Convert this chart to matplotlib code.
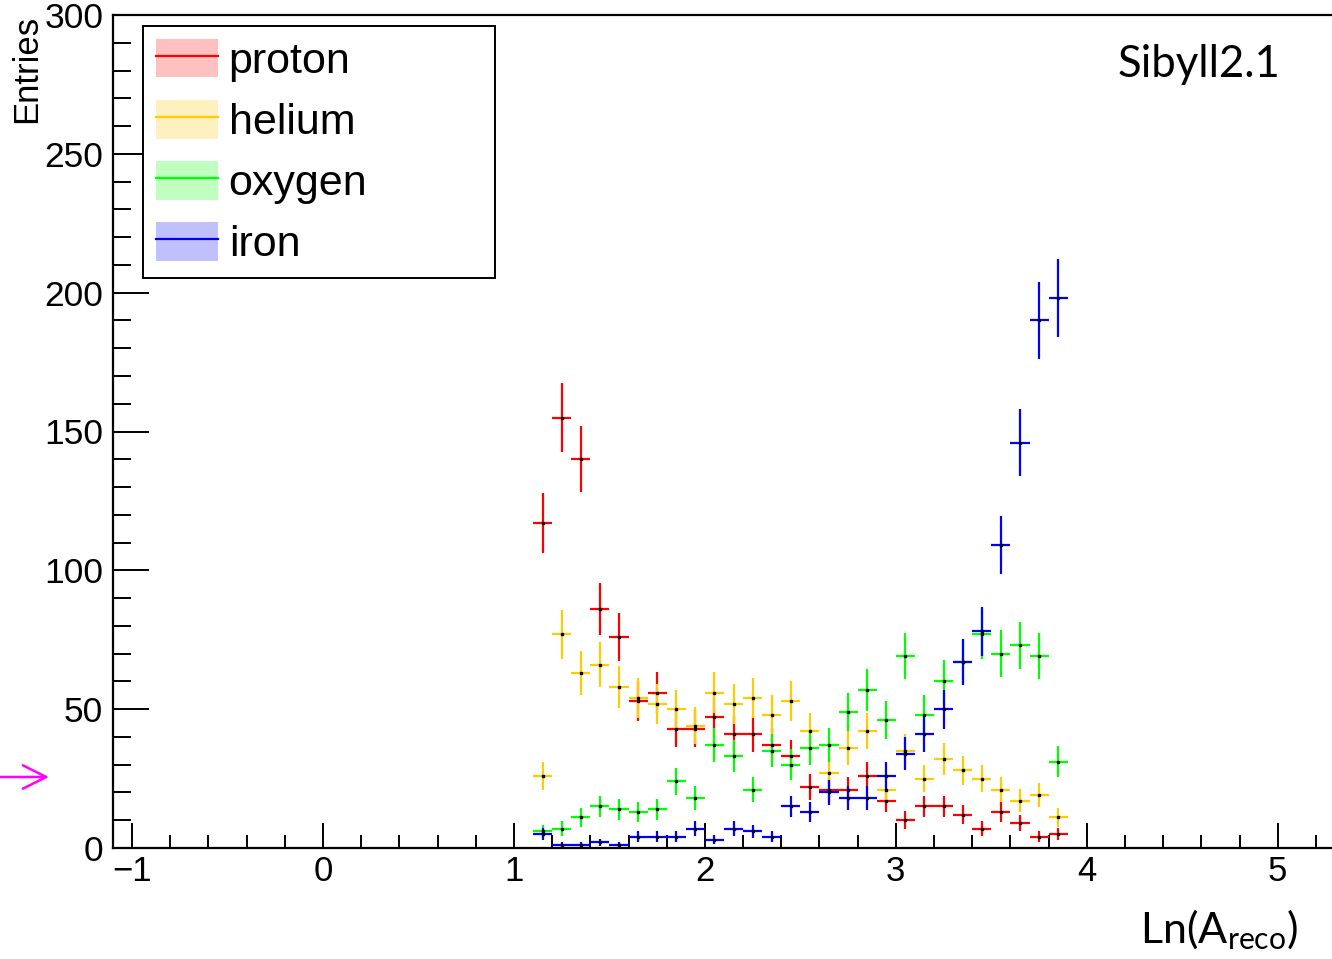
import numpy as np
import matplotlib
matplotlib.use('Agg')
import matplotlib.pyplot as plt
from matplotlib.patches import Patch
from matplotlib.lines import Line2D
from matplotlib.ticker import MultipleLocator

# bin centres of Ln(A_reco), bin width 0.1
bin_centres = [1.15, 1.25, 1.35, 1.45, 1.55, 1.65, 1.75, 1.85, 1.95, 2.05,
               2.15, 2.25, 2.35, 2.45, 2.55, 2.65, 2.75, 2.85, 2.95, 3.05,
               3.15, 3.25, 3.35, 3.45, 3.55, 3.65, 3.75, 3.85]
bin_width = 0.1

proton = [117, 155, 140, 86, 76, 53, 56, 43, 43, 47, 41, 41, 37, 33,
          22, 21, 21, 26, 17, 10, 15, 15, 12, 7, 13, 9, 4, 5]
helium = [26, 77, 63, 66, 58, 54, 52, 50, 44, 56, 52, 54, 48, 53,
          42, 27, 36, 42, 21, 35, 25, 32, 28, 25, 21, 17, 19, 11]
oxygen = [6, 7, 11, 15, 14, 13, 14, 24, 18, 37, 33, 21, 35, 30,
          36, 37, 49, 57, 46, 69, 48, 60, 67, 77, 70, 73, 69, 31]
iron = [5, 1, 1, 2, 1, 4, 4, 4, 7, 3, 7, 6, 4, 15,
        13, 20, 18, 18, 26, 34, 41, 50, 67, 78, 109, 146, 190, 198]

labels = ['proton', 'helium', 'oxygen', 'iron']
colors = ['#ff0000', '#ffcc00', '#00ff00', '#0000ff']
fills = ['#ffc0c0', '#fff0c0', '#c0ffc0', '#c0c0ff']

plt.rcParams['font.family'] = ['Liberation Sans', 'DejaVu Sans']
plt.rcParams['mathtext.fontset'] = 'custom'
plt.rcParams['mathtext.rm'] = 'Lato'

W, H = 1332, 959
fig = plt.figure(figsize=(W / 100, H / 100), dpi=100)
# frame: left 113 px, y=0 at 848 px, y=300 at 15 px, right edge just off the picture
ax = fig.add_axes([113 / W, (H - 848) / H, 1222 / W, 833 / H])

x = np.array(bin_centres)
for vals, col in zip([proton, helium, oxygen, iron], colors):
    v = np.array(vals, dtype=float)
    ax.errorbar(x, v, xerr=bin_width / 2, yerr=np.sqrt(v), fmt='none',
                ecolor=col, elinewidth=1.6, capsize=0)
    ax.plot(x, v, 's', ms=1.6, color='k', zorder=5)

ax.set_xlim(-1.1, 5.3)
ax.set_ylim(0, 300)
ax.xaxis.set_major_locator(MultipleLocator(1))
ax.xaxis.set_minor_locator(MultipleLocator(0.2))
ax.yaxis.set_major_locator(MultipleLocator(50))
ax.yaxis.set_minor_locator(MultipleLocator(10))
ax.tick_params(axis='x', which='major', direction='in', length=18, width=1.4,
               labelsize=25, pad=5)
ax.tick_params(axis='x', which='minor', direction='in', length=9.5, width=1.4)
ax.tick_params(axis='y', which='major', direction='in', length=26, width=1.4,
               labelsize=25.5, pad=7)
ax.tick_params(axis='y', which='minor', direction='in', length=13, width=1.4)
for s in ax.spines.values():
    s.set_linewidth(1.6)

handles = [(Patch(facecolor=f, edgecolor='none'), Line2D([], [], color=c, lw=1.6))
           for f, c in zip(fills, colors)]
leg = ax.legend(handles, labels, loc='upper left',
                bbox_to_anchor=(30 / 1222, 1 - 260 / 833, 352 / 1222, 249 / 833),
                mode='expand', fontsize=31, handlelength=1.44, handleheight=1.0,
                labelspacing=0.42, borderpad=0.3, handletextpad=0.25,
                borderaxespad=0, fancybox=False, framealpha=1, edgecolor='black')
leg.get_frame().set_linewidth(1.4)

fig.text(27 / W, 1 - 15 / H, 'Entries', rotation=90, ha='center', va='top', fontsize=25)
fig.text(1298 / W, (H - 943) / H, r'Ln(A$_{\mathrm{reco}}$)', family='Lato',
         ha='right', va='baseline', fontsize=31)
fig.text(1280 / W, (H - 77) / H, 'Sibyll2.1', family='Lato',
         ha='right', va='baseline', fontsize=31.5)

ax.annotate('', xy=(49 / W, (H - 777) / H), xytext=(0, (H - 777) / H),
            xycoords='figure fraction', textcoords='figure fraction',
            arrowprops=dict(arrowstyle='->', color='magenta', lw=1.8,
                            mutation_scale=42, shrinkA=0, shrinkB=0))

fig.savefig('out.png', dpi=100)
